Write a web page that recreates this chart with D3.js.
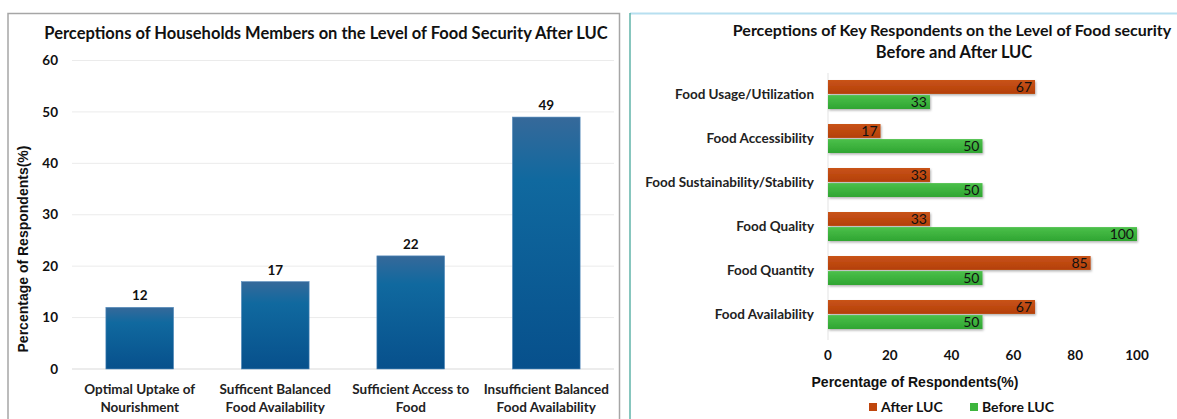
<!DOCTYPE html>
<meta charset="utf-8">
<style>
  body { margin: 0; overflow: hidden; background: #fff; }
  text { font-family: Lato, "Open Sans", sans-serif; fill: #111; }
  .ttl { font-weight: bold; font-size: 16.5px; }
  .tick-lbl { font-weight: bold; font-size: 13.5px; }
  .cat { font-weight: bold; font-size: 13.5px; fill: #222; }
  .axt { font-family: "Liberation Sans", Arial, sans-serif; font-weight: bold; font-size: 14px; }
</style>
<body>
</body>
<script src="https://cdn.jsdelivr.net/npm/d3@7"></script>
<script>

// left chart data
var hhCats = [["Optimal Uptake of", "Nourishment"], ["Sufficent Balanced", "Food Availability"],
              ["Sufficient Access to", "Food"], ["Insufficient Balanced", "Food Availability"]];
var hhValues = [12, 17, 22, 49];
var hhTicks = [0, 10, 20, 30, 40, 50, 60];

// right chart data
var keyCats = ["Food Usage/Utilization", "Food Accessibility", "Food Sustainability/Stability",
               "Food Quality", "Food Quantity", "Food Availability"];
var afterLUC = [67, 17, 33, 33, 85, 67];
var beforeLUC = [33, 50, 50, 100, 50, 50];
var keyTicks = [0, 20, 40, 60, 80, 100];
var seriesNames = ["After LUC", "Before LUC"];

var colors = {after: "#bf460d", before: "#3db53d"};

var svg = d3.select("body").append("svg")
    .attr("width", 1177)
    .attr("height", 419);

var defs = svg.append("defs");

var g1 = defs.append("linearGradient").attr("id", "blueGrad")
    .attr("x1", 0).attr("x2", 0).attr("y1", 0).attr("y2", 1);
g1.append("stop").attr("offset", "0%").attr("stop-color", "#36699a");
g1.append("stop").attr("offset", "25%").attr("stop-color", "#10699f");
g1.append("stop").attr("offset", "100%").attr("stop-color", "#07508c");

var g2 = defs.append("linearGradient").attr("id", "redGrad")
    .attr("x1", 0).attr("x2", 0).attr("y1", 0).attr("y2", 1);
g2.append("stop").attr("offset", "0%").attr("stop-color", "#c9531a");
g2.append("stop").attr("offset", "100%").attr("stop-color", "#b43f06");

var g3 = defs.append("linearGradient").attr("id", "greenGrad")
    .attr("x1", 0).attr("x2", 0).attr("y1", 0).attr("y2", 1);
g3.append("stop").attr("offset", "0%").attr("stop-color", "#4cc04a");
g3.append("stop").attr("offset", "100%").attr("stop-color", "#2fa532");

defs.append("filter").attr("id", "shadow")
    .attr("x", "-5%").attr("y", "-20%").attr("width", "115%").attr("height", "160%")
  .append("feDropShadow")
    .attr("dx", 1).attr("dy", 1.5).attr("stdDeviation", 1)
    .attr("flood-color", "#000").attr("flood-opacity", 0.3);

// panel borders
svg.append("path")
    .attr("d", "M8,419 V13.5 H619.5 V419")
    .style("fill", "none").style("stroke", "#a6a6a6").style("stroke-width", 1.5);

svg.append("path")
    .attr("d", "M630,13.5 H1177")
    .style("stroke", "#b7dff0").style("stroke-width", 2);
svg.append("path")
    .attr("d", "M630,13 V419")
    .style("stroke", "#5fb3a8").style("stroke-width", 1.5);

// ---------- left chart ----------
var x1 = d3.scaleBand().domain(d3.range(hhValues.length)).range([72, 614]).paddingInner(0.5).paddingOuter(0.25);
var y1 = d3.scaleLinear().domain([0, 60]).range([369, 60.5]);

var left = svg.append("g");

left.append("text").attr("class", "ttl")
    .attr("x", 326).attr("y", 39)
    .attr("text-anchor", "middle")
    .text("Perceptions of Households Members on the Level of Food Security After LUC");

left.append("g").selectAll("line")
    .data(hhTicks)
  .enter().append("line")
    .attr("x1", 72).attr("x2", 614)
    .attr("y1", d => y1(d)).attr("y2", d => y1(d))
    .style("stroke", d => d === 0 ? "#d9d9d9" : "#ebebeb")
    .style("stroke-width", 1);

left.append("g").selectAll("text")
    .data(hhTicks)
  .enter().append("text")
    .attr("class", "tick-lbl")
    .attr("x", 58).attr("y", d => y1(d))
    .attr("dy", "0.35em")
    .attr("text-anchor", "end")
    .text(d => d);

left.append("g").selectAll("rect")
    .data(hhValues)
  .enter().append("rect")
    .attr("x", (d, i) => x1(i))
    .attr("width", x1.bandwidth())
    .attr("y", d => y1(d))
    .attr("height", d => y1(0) - y1(d))
    .style("fill", "url(#blueGrad)")
    .style("stroke", "#5b8fbf")
    .style("stroke-width", 0.6);

left.append("g").selectAll("text")
    .data(hhValues)
  .enter().append("text")
    .attr("class", "tick-lbl")
    .attr("x", (d, i) => x1(i) + x1.bandwidth() / 2)
    .attr("y", d => y1(d) - 7)
    .attr("text-anchor", "middle")
    .text(d => d);

var catText = left.append("g").selectAll("text")
    .data(hhCats)
  .enter().append("text")
    .attr("class", "cat")
    .attr("text-anchor", "middle")
    .attr("x", (d, i) => x1(i) + x1.bandwidth() / 2)
    .attr("y", 394);
catText.selectAll("tspan")
    .data(d => d)
  .enter().append("tspan")
    .attr("x", function() { return d3.select(this.parentNode).attr("x"); })
    .attr("dy", (d, i) => i === 0 ? 0 : 18)
    .text(d => d);

left.append("text").attr("class", "axt")
    .attr("transform", "translate(28,249) rotate(-90)")
    .attr("text-anchor", "middle")
    .text("Percentage of Respondents(%)");

// ---------- right chart ----------
var x2 = d3.scaleLinear().domain([0, 100]).range([828, 1137]);
var y2 = d3.scaleBand().domain(keyCats).range([72.5, 336.5]);
var sub = d3.scaleBand().domain(["after", "before"]).range([7.5, 36.5]).paddingInner(0.08);

var right = svg.append("g");

right.append("text").attr("class", "ttl")
    .style("font-size", "16px")
    .attr("x", 952).attr("y", 36)
    .attr("text-anchor", "middle")
    .text("Perceptions of Key Respondents on the Level of Food security");
right.append("text").attr("class", "ttl")
    .attr("x", 954).attr("y", 58)
    .attr("text-anchor", "middle")
    .text("Before and After LUC");

right.append("line")
    .attr("x1", x2(0)).attr("x2", x2(0))
    .attr("y1", 73).attr("y2", 340)
    .style("stroke", "#e3e3e3");

right.append("g").selectAll("text")
    .data(keyCats)
  .enter().append("text")
    .attr("class", "cat")
    .attr("x", 814)
    .attr("y", d => y2(d) + y2.bandwidth() / 2)
    .attr("dy", "0.35em")
    .attr("text-anchor", "end")
    .text(d => d);

var rows = keyCats.map((c, i) => ({cat: c, after: afterLUC[i], before: beforeLUC[i]}));

["after", "before"].forEach(function(s) {
  var grp = right.append("g");
  grp.selectAll("rect")
      .data(rows)
    .enter().append("rect")
      .attr("x", x2(0))
      .attr("y", d => y2(d.cat) + sub(s))
      .attr("width", d => x2(d[s]) - x2(0))
      .attr("height", sub.bandwidth())
      .style("fill", s === "after" ? "url(#redGrad)" : "url(#greenGrad)")
      .style("filter", "url(#shadow)");
  grp.selectAll("text")
      .data(rows)
    .enter().append("text")
      .style("font-size", "14px")
      .attr("x", d => x2(d[s]) - 3)
      .attr("y", d => y2(d.cat) + sub(s) + sub.bandwidth() / 2)
      .attr("dy", "0.36em")
      .attr("text-anchor", "end")
      .text(d => d[s]);
});

right.append("g").selectAll("text")
    .data(keyTicks)
  .enter().append("text")
    .attr("class", "tick-lbl")
    .attr("x", d => x2(d))
    .attr("y", 360)
    .attr("text-anchor", "middle")
    .text(d => d);

right.append("text").attr("class", "axt")
    .attr("x", 915).attr("y", 387)
    .attr("text-anchor", "middle")
    .text("Percentage of Respondents(%)");

var leg = right.append("g").selectAll("g")
    .data(seriesNames)
  .enter().append("g")
    .attr("transform", (d, i) => "translate(" + (869 + i * 101) + ",403)");
leg.append("rect")
    .attr("width", 8).attr("height", 8)
    .style("fill", (d, i) => i === 0 ? colors.after : colors.before);
leg.append("text")
    .attr("x", 12).attr("y", 4)
    .attr("dy", "0.36em")
    .style("font-size", "14px").style("font-weight", "bold")
    .text(d => d);

</script>
